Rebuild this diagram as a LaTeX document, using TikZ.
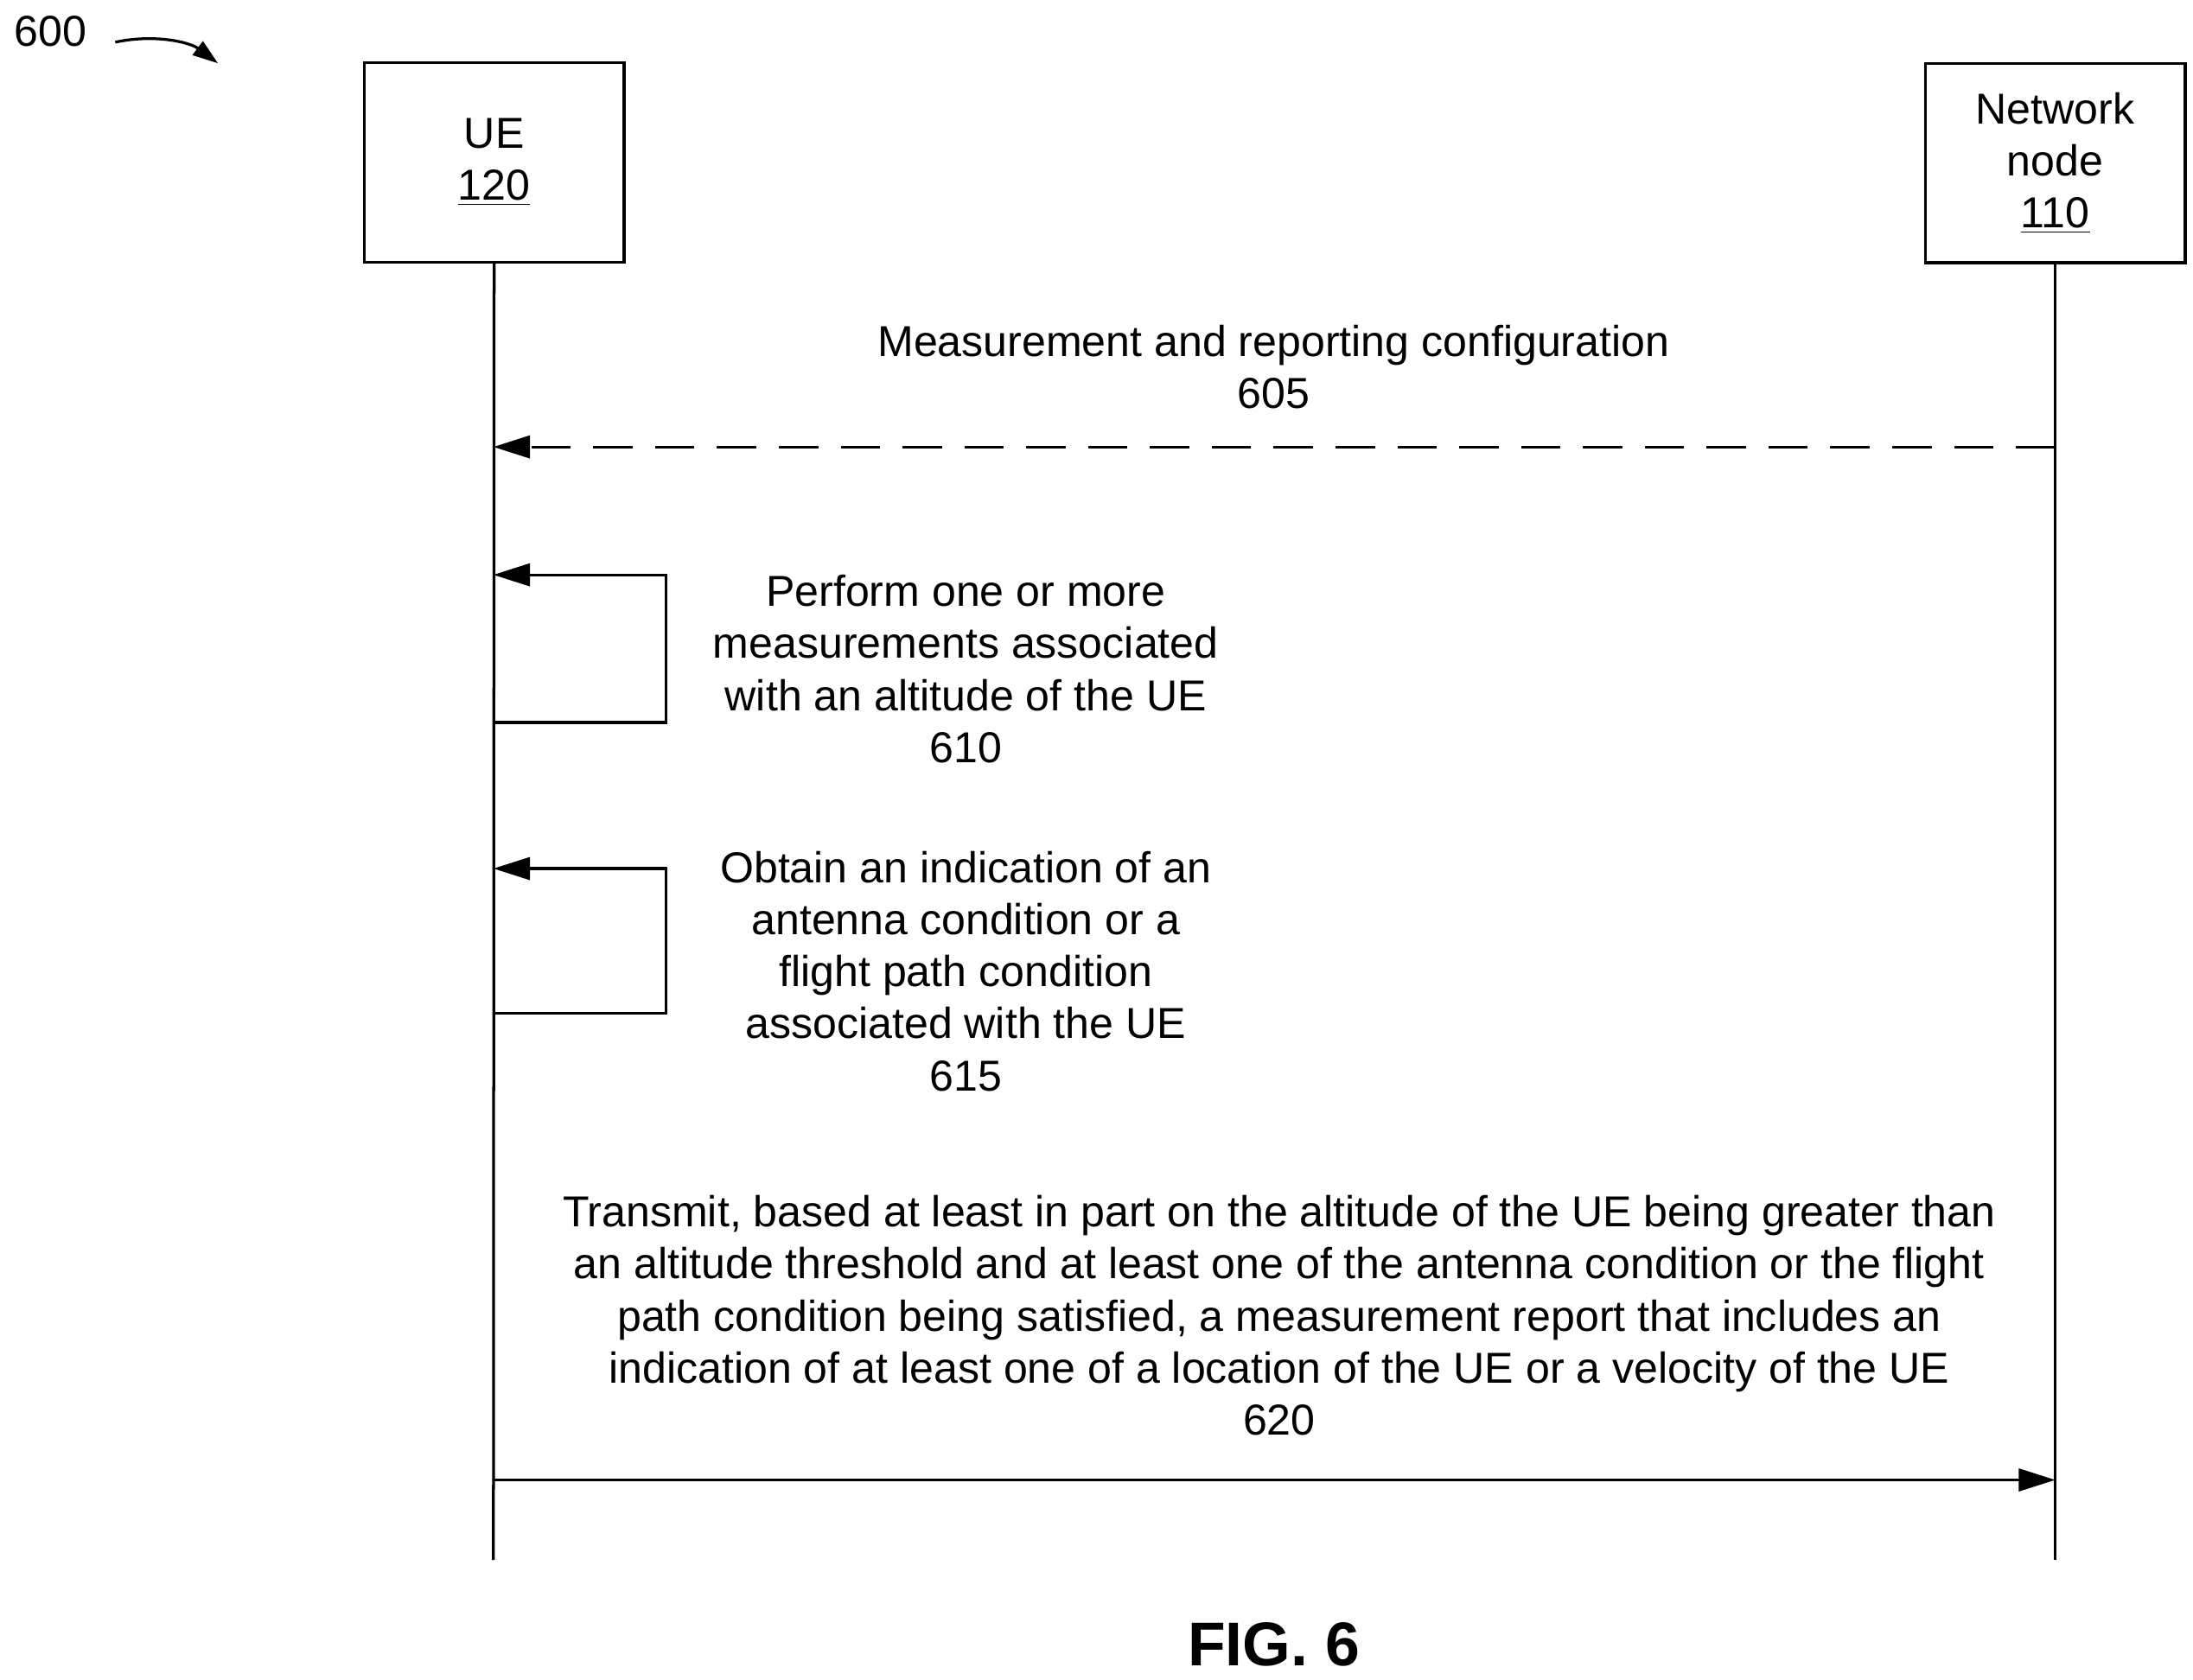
\documentclass[tikz,border=0pt]{standalone}
\usepackage{fontspec}
\setmainfont{Liberation Sans}
\usetikzlibrary{arrows.meta}
\begin{document}
\begin{tikzpicture}[x=0.5pt,y=-0.5pt,
  lbl/.style={align=center,font=\fontsize{15.4}{18.5}\selectfont,inner sep=0pt},
  ent/.style={draw,line width=1pt,minimum width=92.5pt,minimum height=71pt,inner sep=0pt,align=center,font=\fontsize{15.4}{18.5}\selectfont},
  arr/.style={line width=1pt,-{Triangle[length=13pt,width=8pt]}},
  life/.style={line width=1pt}]
\useasboundingbox (0,0) rectangle (1560,1195);
\node[lbl,anchor=west] (n600) at (10,22) {600};
\coordinate (a1) at (82,30);
\coordinate (a2) at (155,45);
\draw[line width=1pt,-{Triangle[length=9pt,width=6pt]}] (a1) .. controls (110,24) and (135,30) .. (a2);
\node[ent] (ue) at (351.5,115.5) {UE\\\underline{120}};
\node[ent] (nn) at (1462,116) {Network\\node\\\underline{110}};
\coordinate (ueb) at (351,1110);
\coordinate (nnb) at (1462,1110);
\draw[life] (ue.south) -- (ueb);
\draw[life] (nn.south) -- (nnb);
\node[lbl] (t605) at (906,261) {Measurement and reporting configuration\\605};
\coordinate (s605) at (1462,318); \coordinate (e605) at (351,318);
\draw[arr,dash pattern=on 14pt off 8pt] (s605) -- (e605);
\coordinate (p1) at (351,514); \coordinate (p2) at (474,514); \coordinate (p3) at (474,409); \coordinate (p4) at (351,409);
\draw[arr] (p1) -- (p2) -- (p3) -- (p4);
\node[lbl] (t610) at (687,476) {Perform one or more\\measurements associated\\with an altitude of the UE\\610};
\coordinate (q1) at (351,721); \coordinate (q2) at (474,721); \coordinate (q3) at (474,618); \coordinate (q4) at (351,618);
\draw[arr] (q1) -- (q2) -- (q3) -- (q4);
\node[lbl] (t615) at (687,691) {Obtain an indication of an\\antenna condition or a\\flight path condition\\associated with the UE\\615};
\node[lbl] (t620) at (910,936) {Transmit, based at least in part on the altitude of the UE being greater than\\an altitude threshold and at least one of the antenna condition or the flight\\path condition being satisfied, a measurement report that includes an\\indication of at least one of a location of the UE or a velocity of the UE\\620};
\coordinate (s620) at (351,1053); \coordinate (e620) at (1462,1053);
\draw[arr] (s620) -- (e620);
\node[lbl,font=\bfseries\fontsize{22}{26}\selectfont] (fig) at (906,1170) {FIG. 6};
\end{tikzpicture}
\end{document}
